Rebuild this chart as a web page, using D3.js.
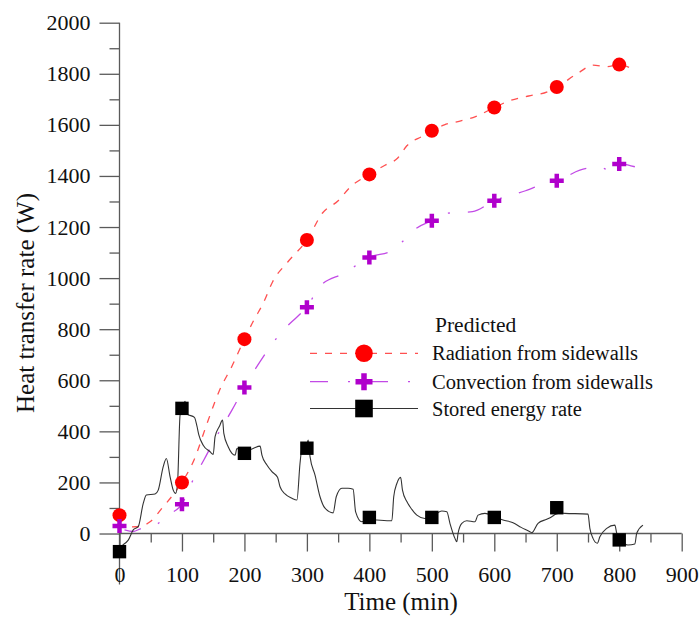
<!DOCTYPE html>
<html>
<head>
<meta charset="utf-8">
<script src="https://cdn.jsdelivr.net/npm/d3@7/dist/d3.min.js"></script>
<style>
  html, body { margin: 0; padding: 0; background: #ffffff; }
  svg { display: block; font-family: "Liberation Serif", "Times New Roman", serif; }
</style>
</head>
<body>
<svg id="chart" width="700" height="617"></svg>
<script>
// ---------------- DATA ----------------
const markerTimes = [0, 100, 200, 300, 400, 500, 600, 700, 800];
const radiationMarkers = [72, 200, 761, 1149, 1406, 1577, 1668, 1748, 1836];
const convectionMarkers = [29, 115, 572, 886, 1081, 1225, 1303, 1381, 1447];
const storedMarkers = [-71, 490, 314, 334, 63, 63, 63, 101, -25];

const radiationCurveTime  = [20, 33, 50, 70, 90, 100, 120, 140, 160, 180, 200, 215, 230, 245, 270, 300, 325, 350, 370, 400, 425, 445, 460, 485, 500, 520, 545, 570, 600, 625, 655, 685, 700, 735, 758, 780, 800, 825];
const radiationCurveValue = [26, 28, 48, 105, 165, 200, 292, 430, 560, 655, 761, 835, 901, 985, 1065, 1149, 1255, 1303, 1358, 1406, 1442, 1469, 1518, 1556, 1577, 1600, 1615, 1632, 1668, 1695, 1713, 1729, 1748, 1804, 1834, 1828, 1836, 1813];

const convectionCurveTime  = [8, 22, 35, 55, 80, 100, 115, 135, 160, 180, 200, 225, 260, 285, 300, 320, 360, 400, 438, 450, 475, 500, 525, 565, 600, 650, 690, 700, 737, 770, 780, 800, 825];
const convectionCurveValue = [14, 8, 20, 30, 76, 115, 196, 288, 400, 483, 573, 673, 790, 850, 886, 966, 1020, 1081, 1110, 1136, 1195, 1225, 1254, 1260, 1303, 1342, 1377, 1381, 1423, 1436, 1426, 1447, 1436];

const storedCurveTime  = [5, 14, 22, 30, 38, 43, 57, 62, 70, 75, 81, 86, 90, 93, 97, 101, 105, 108, 120, 124, 127, 134, 145, 150, 153, 160, 165, 167, 174, 180, 185, 188, 200, 214, 225, 228, 236, 244, 253, 257, 265, 276, 284, 289, 292, 300, 302, 305, 313, 321, 329, 342, 347, 356, 366, 374, 378, 388, 400, 412, 436, 439, 444, 450, 453, 460, 465, 476, 489, 500, 516, 524, 529, 537, 540, 542, 548, 556, 569, 574, 585, 600, 614, 630, 643, 657, 660, 670, 684, 692, 698, 705, 713, 750, 753, 758, 765, 769, 780, 793, 796, 800, 814, 825, 828, 838];
const storedCurveValue = [-45, -26, 14, 27, 118, 151, 155, 170, 262, 294, 222, 170, 157, 200, 464, 490, 518, 468, 455, 420, 386, 346, 320, 310, 379, 420, 444, 392, 340, 314, 307, 333, 320, 333, 342, 307, 268, 242, 220, 183, 155, 138, 131, 275, 333, 350, 366, 301, 229, 144, 99, 81, 144, 177, 177, 173, 85, 46, 55, 53, 50, 144, 196, 220, 170, 125, 105, 72, 59, 65, 88, 85, 40, -19, -32, 1, 40, 50, 46, 72, 79, 66, 53, 42, 24, 7, 3, 40, 56, 66, 75, 80, 79, 76, 20, -19, -38, -13, 20, 33, 1, -20, -45, -41, 1, 33];

const xMajorTicks = [0, 100, 200, 300, 400, 500, 600, 700, 800, 900];
const xMinorTicks = [50, 150, 250, 350, 450, 550, 650, 750, 850];
const yMajorTicks = [0, 200, 400, 600, 800, 1000, 1200, 1400, 1600, 1800, 2000];
const yMinorTicks = [100, 300, 500, 700, 900, 1100, 1300, 1500, 1700, 1900];

const xTitle = "Time (min)";
const yTitle = "Heat transfer rate (W)";
const legendTitle = "Predicted";
const seriesNames = ["Radiation from sidewalls", "Convection from sidewalls", "Stored energy rate"];

// ---------------- CHART ----------------
const svg = d3.select("#chart");
const x = d3.scaleLinear().domain([0, 900]).range([119.5, 681.7]);
const y = d3.scaleLinear().domain([-200, 2000]).range([584.6, 22.7]);

const axisColor = "#5a5a5a";
const redMarker = "#ff0000", redLine = "#ff5050";
const purpleMarker = "#b000cc", purpleLine = "#c24ae6";
const blackLine = "#333333";

// Y axis
const yAxis = svg.append("g").attr("transform", `translate(${x(0)},0)`);
yAxis.call(d3.axisLeft(y).tickValues(yMajorTicks).tickSize(20).tickPadding(9).tickFormat(d3.format("d")));
yAxis.select(".domain").remove();
yAxis.append("g").call(d3.axisLeft(y).tickValues(yMinorTicks).tickSize(10).tickFormat(""))
  .select(".domain").remove();
yAxis.append("line").attr("x1", 0).attr("x2", 0).attr("y1", y(-200)).attr("y2", y(2000));
yAxis.selectAll("line").attr("stroke", axisColor).attr("stroke-width", 1.3);
yAxis.selectAll("text").attr("font-size", 22).attr("fill", "#111").style("font-family", "Liberation Serif");

// X axis
const xAxis = svg.append("g").attr("transform", `translate(0,${y(0)})`);
xAxis.call(d3.axisBottom(x).tickValues(xMajorTicks).tickSize(18).tickPadding(15).tickSizeOuter(0).tickFormat(d3.format("d")));
xAxis.select(".domain").remove();
xAxis.append("g").call(d3.axisBottom(x).tickValues(xMinorTicks).tickSize(9).tickFormat(""))
  .select(".domain").remove();
xAxis.append("line").attr("x1", x(0)).attr("x2", x(900)).attr("y1", 0).attr("y2", 0);
xAxis.selectAll("line").attr("stroke", axisColor).attr("stroke-width", 1.3);
xAxis.selectAll("text").attr("font-size", 22).attr("fill", "#111").style("font-family", "Liberation Serif");

// Titles
svg.append("text").attr("x", 401).attr("y", 610).attr("text-anchor", "middle")
  .attr("font-size", 25).attr("fill", "#111").text(xTitle);
svg.append("text").attr("transform", "translate(34,303) rotate(-90)").attr("text-anchor", "middle")
  .attr("font-size", 25).attr("fill", "#111").text(yTitle);

// Lines
const line = d3.line().x(d => x(d[0])).y(d => y(d[1])).curve(d3.curveMonotoneX);
const zip = (a, b) => a.map((v, i) => [v, b[i]]);

svg.append("path").datum(zip(radiationCurveTime, radiationCurveValue))
  .attr("d", line).attr("fill", "none").attr("stroke", redLine).attr("stroke-width", 1.3)
  .attr("stroke-dasharray", "7,8");
svg.append("path").datum(zip(convectionCurveTime, convectionCurveValue))
  .attr("d", line).attr("fill", "none").attr("stroke", purpleLine).attr("stroke-width", 1.3)
  .attr("stroke-dasharray", "17,18,2,18");
svg.append("path").datum(zip(storedCurveTime, storedCurveValue))
  .attr("d", line).attr("fill", "none").attr("stroke", blackLine).attr("stroke-width", 1.1);

// Markers
function plusPath(cx, cy, s, t) {
  const h = s / 2, w = t / 2;
  return `M${cx - w},${cy - h}H${cx + w}V${cy - w}H${cx + h}V${cy + w}H${cx + w}V${cy + h}H${cx - w}V${cy + w}H${cx - h}V${cy - w}H${cx - w}Z`;
}

svg.append("g").selectAll("circle").data(zip(markerTimes, radiationMarkers)).join("circle")
  .attr("cx", d => x(d[0])).attr("cy", d => y(d[1])).attr("r", 7).attr("fill", redMarker);
svg.append("g").selectAll("path").data(zip(markerTimes, convectionMarkers)).join("path")
  .attr("d", d => plusPath(x(d[0]), y(d[1]), 14, 4.5)).attr("fill", purpleMarker);
svg.append("g").selectAll("rect").data(zip(markerTimes, storedMarkers)).join("rect")
  .attr("x", d => x(d[0]) - 6.7).attr("y", d => y(d[1]) - 6.7).attr("width", 13.4).attr("height", 13.4)
  .attr("fill", "#000");

// Legend
const lg = svg.append("g");
lg.append("text").attr("x", 435).attr("y", 332).attr("font-size", 21.5).attr("fill", "#111").text(legendTitle);
const rowY = [353.3, 381.7, 408.5];
const lx1 = 310, lx2 = 418, lmx = 364;
// radiation
lg.append("line").attr("x1", lx1).attr("x2", lx2).attr("y1", rowY[0]).attr("y2", rowY[0])
  .attr("stroke", redLine).attr("stroke-width", 1.3).attr("stroke-dasharray", "7,8");
lg.append("circle").attr("cx", lmx).attr("cy", rowY[0]).attr("r", 8.8).attr("fill", redMarker);
// convection
lg.append("line").attr("x1", lx1).attr("x2", lx2).attr("y1", rowY[1]).attr("y2", rowY[1])
  .attr("stroke", purpleLine).attr("stroke-width", 1.3).attr("stroke-dasharray", "18,20,2,20");
lg.append("path").attr("d", plusPath(lmx, rowY[1], 17, 5.5)).attr("fill", purpleMarker);
// stored
lg.append("line").attr("x1", lx1).attr("x2", lx2).attr("y1", rowY[2]).attr("y2", rowY[2])
  .attr("stroke", blackLine).attr("stroke-width", 1.1);
lg.append("rect").attr("x", lmx - 8.8).attr("y", rowY[2] - 8.8).attr("width", 17.6).attr("height", 17.6).attr("fill", "#000");

lg.selectAll("text.entry").data(seriesNames).join("text").attr("class", "entry")
  .attr("x", 432).attr("y", (d, i) => rowY[i] + 7).attr("font-size", 20.5).attr("fill", "#111").text(d => d);
</script>
</body>
</html>
